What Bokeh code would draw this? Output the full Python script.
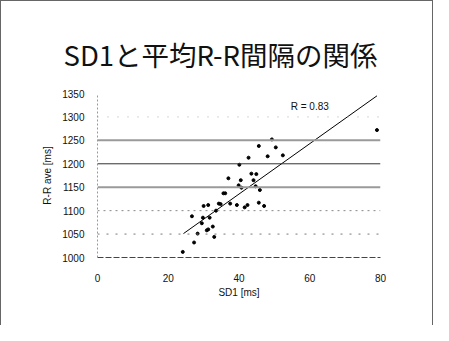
from bokeh.plotting import figure
from bokeh.models import Span, Label, Range1d, FixedTicker, Title
from bokeh.embed import file_html
from bokeh.resources import INLINE

title_text = "SD1と平均R-R間隔の関係"
x_label = "SD1 [ms]"
y_label = "R-R ave [ms]"
r_text = "R = 0.83"

x_ticks = [0, 20, 40, 60, 80]
y_ticks = [1000, 1050, 1100, 1150, 1200, 1250, 1300, 1350]

sd1 = [24.1, 26.7, 27.3, 28.3, 29.5, 29.8, 30.0, 30.9, 31.3, 31.3, 31.7, 32.6,
       33.0, 33.5, 34.3, 34.8, 35.6, 36.1, 37.0, 37.5, 39.4, 39.9, 40.1, 40.5,
       40.7, 41.6, 42.4, 42.7, 43.5, 44.1, 44.7, 44.9, 45.6, 45.6, 45.9, 47.1,
       48.1, 49.3, 50.4, 52.4, 79.0]
rr = [1012, 1088, 1032, 1051, 1073, 1085, 1110, 1058, 1060, 1112, 1085, 1066,
      1044, 1100, 1115, 1114, 1137, 1137, 1169, 1115, 1112, 1154, 1198, 1165,
      1149, 1107, 1112, 1213, 1179, 1165, 1152, 1178, 1238, 1117, 1144, 1110,
      1216, 1252, 1235, 1218, 1272]

trend_x = [24.3, 79.0]
trend_y = [1051, 1345]

p = figure(width=433, height=325, output_backend="svg", toolbar_location=None,
           x_range=Range1d(0, 80), y_range=Range1d(1000, 1350),
           min_border_left=96, min_border_right=54, min_border_top=92,
           min_border_bottom=69)
p.background_fill_color = "white"
p.border_fill_color = "white"
p.outline_line_color = None
p.styles = {"border-left": "1px solid #666", "border-top": "1px solid #666",
            "border-right": "1px solid #666"}

p.title.text = title_text
p.title.text_font = "Noto Sans CJK JP"
p.title.text_font_size = "27.5px"
p.title.text_font_style = "normal"
p.title.text_color = "#111111"
p.title.align = "left"
p.title.offset = -34
p.title.standoff = 40

p.xgrid.visible = False
p.ygrid.visible = False

grid_styles = {
    1050: ("#777777", 1, "2 7"),
    1100: ("#888888", 1, "2 4"),
    1150: ("#9a9a9a", 2, "solid"),
    1200: ("#333333", 1, "solid"),
    1250: ("#9a9a9a", 2, "solid"),
    1300: ("#aaaaaa", 1, "1 9"),
}
for yv in y_ticks:
    if yv in grid_styles:
        c, w, d = grid_styles[yv]
        p.add_layout(Span(location=yv, dimension="width", line_color=c,
                          line_width=w, line_dash=d))

for ax in (p.xaxis[0], p.yaxis[0]):
    ax.major_tick_line_color = None
    ax.minor_tick_line_color = None
    ax.major_label_text_font = "Liberation Sans"
    ax.major_label_text_font_size = "10px"
    ax.major_label_text_color = "#111111"
    ax.axis_label_text_font = "Liberation Sans"
    ax.axis_label_text_font_size = "10px"
    ax.axis_label_text_font_style = "normal"
    ax.axis_label_text_color = "#111111"

p.xaxis.ticker = FixedTicker(ticks=x_ticks)
p.yaxis.ticker = FixedTicker(ticks=y_ticks)
p.yaxis.axis_label = y_label
p.xaxis.axis_line_color = "#444444"
p.xaxis.axis_line_dash = "6 2"
p.yaxis.axis_line_color = "#999999"
p.yaxis.axis_line_dash = "2 2"
p.xaxis.major_label_standoff = 10
p.yaxis.major_label_standoff = 7
p.yaxis.axis_label_standoff = 6

xt = Title(text=x_label, align="center", offset=20, standoff=1,
           text_font="Liberation Sans", text_font_size="10px",
           text_font_style="normal", text_color="#111111")
p.add_layout(xt, "below")

p.line(trend_x, trend_y, line_color="black", line_width=1)
p.scatter(sd1, rr, marker="circle", size=3, color="black")

p.add_layout(Label(x=60, y=1322, text=r_text, text_align="center",
                   text_baseline="middle", text_font="Liberation Sans",
                   text_font_size="10px", text_color="#111111"))

open("out.html", "w").write(file_html(p, INLINE))
